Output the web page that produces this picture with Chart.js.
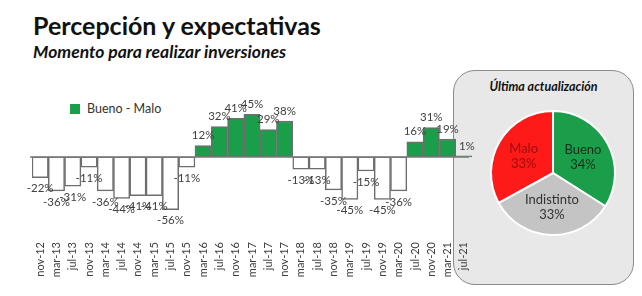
<!DOCTYPE html>
<html lang="es">
<head>
<meta charset="UTF-8">
<title>Percepción y expectativas</title>
<script src="https://cdn.jsdelivr.net/npm/chart.js@4.4.0/dist/chart.umd.min.js"></script>
<style>
    * { margin: 0; padding: 0; box-sizing: border-box; }
    body {
        width: 642px; height: 296px; background: #fff; position: relative; overflow: hidden;
        font-family: Lato, "Open Sans", sans-serif; color: #111;
    }
    h1 { position: absolute; left: 33px; top: 10px; font-size: 25px; font-weight: 700; }
    h2 { position: absolute; left: 33px; top: 41px; font-size: 17.5px; font-style: italic; font-weight: 700; }
    .legend { position: absolute; left: 70px; top: 101px; display: flex; align-items: center; gap: 7px; font-size: 12.5px; color: #333; }
    .legend .box { width: 10px; height: 10px; background: #1a9e4a; }
    .panel {
        position: absolute; left: 453px; top: 70px; width: 181px; height: 215px;
        background: #e8e8e8; border: 1.5px solid #8a8a8a; border-radius: 22px;
    }
    .panel-title { position: absolute; top: 8px; width: 100%; text-align: center; font-size: 12.5px; font-style: italic; font-weight: 700; }
    #pieWrap { position: absolute; left: 489px; top: 109px; width: 128px; height: 128px; }
    #barWrap { position: absolute; left: 0; top: 0; width: 642px; height: 296px; pointer-events: none; }
</style>
</head>
<body>
    <h1>Percepción y expectativas</h1>
    <h2>Momento para realizar inversiones</h2>
    <div class="legend"><span class="box"></span><span>Bueno - Malo</span></div>
    <div class="panel"><div class="panel-title">Última actualización</div></div>
    <div id="pieWrap"><canvas id="pieChart"></canvas></div>
    <div id="barWrap"><canvas id="barChart"></canvas></div>

<script>
    // data
    const periods = ['nov-12', 'mar-13', 'jul-13', 'nov-13', 'mar-14', 'jul-14', 'nov-14', 'mar-15', 'jul-15',
        'nov-15', 'mar-16', 'jul-16', 'nov-16', 'mar-17', 'jul-17', 'nov-17', 'mar-18', 'jul-18', 'nov-18',
        'mar-19', 'jul-19', 'nov-19', 'mar-20', 'jul-20', 'nov-20', 'mar-21', 'jul-21'];
    const buenoMenosMalo = [-22, -36, -31, -11, -36, -44, -41, -41, -56, -11, 12, 32, 41, 45, 29, 38,
        -13, -13, -35, -45, -15, -45, -36, 16, 31, 19, 1];

    const pieLabels = ['Bueno', 'Indistinto', 'Malo'];
    const pieValues = [34, 33, 33];

    const GREEN = '#1a9e4a';
    const RED = '#ff1a1a';
    const GREY = '#c4c4c4';

    // value labels at the end of each bar + the zero line
    const barExtras = {
        id: 'barExtras',
        afterDatasetsDraw(chart) {
            const { ctx, chartArea, scales } = chart;
            const y0 = scales.y.getPixelForValue(0);
            ctx.save();
            ctx.strokeStyle = '#7a7a7a';
            ctx.lineWidth = 1.5;
            ctx.beginPath();
            ctx.moveTo(chartArea.left - 2, y0);
            ctx.lineTo(chartArea.right - 3, y0);
            ctx.stroke();

            ctx.font = '11.5px Lato, "Open Sans", sans-serif';
            ctx.fillStyle = '#404040';
            ctx.textAlign = 'center';
            ctx.textBaseline = 'middle';
            const meta = chart.getDatasetMeta(0);
            meta.data.forEach((bar, i) => {
                const v = buenoMenosMalo[i];
                const y = v >= 0 ? bar.y - 10 : bar.y + 11;
                ctx.fillText(v + '%', bar.x + (i === periods.length - 1 ? 3 : 0), y);
            });
            ctx.restore();
        }
    };

    new Chart(document.getElementById('barChart'), {
        type: 'bar',
        data: {
            labels: periods,
            datasets: [{
                data: buenoMenosMalo,
                backgroundColor: buenoMenosMalo.map(v => v >= 0 ? GREEN : '#ffffff'),
                borderColor: '#6e6e6e',
                borderWidth: 1.5,
                borderSkipped: false,
                categoryPercentage: 1,
                barPercentage: 1
            }]
        },
        options: {
            responsive: true,
            maintainAspectRatio: false,
            animation: false,
            layout: { padding: { left: 32, right: 170, top: 105, bottom: 0 } },
            scales: {
                x: {
                    grid: { display: false, drawTicks: false },
                    border: { display: false },
                    ticks: {
                        minRotation: 90, maxRotation: 90, autoSkip: false, padding: 4,
                        color: '#404040', font: { family: 'Lato, "Open Sans", sans-serif', size: 11 }
                    },
                    afterFit(scale) { scale.height = 58; }
                },
                y: { display: false, min: -86, max: 55 }
            },
            plugins: { legend: { display: false }, tooltip: { enabled: false } }
        },
        plugins: [barExtras]
    });

    // slice labels for the pie
    const pieText = {
        id: 'pieText',
        afterDatasetsDraw(chart) {
            const { ctx } = chart;
            const colors = ['#10301b', '#333333', '#9a0d0d'];
            ctx.save();
            ctx.font = '13px Lato, "Open Sans", sans-serif';
            ctx.textAlign = 'center';
            ctx.textBaseline = 'middle';
            chart.getDatasetMeta(0).data.forEach((arc, i) => {
                const p = arc.tooltipPosition();
                const cx = arc.x, cy = arc.y;
                const x = cx + (p.x - cx) * 1.1;
                const y = cy + (p.y - cy) * 1.1;
                ctx.fillStyle = colors[i];
                ctx.fillText(pieLabels[i], x, y - 7);
                ctx.fillText(pieValues[i] + '%', x, y + 8);
            });
            ctx.restore();
        }
    };

    new Chart(document.getElementById('pieChart'), {
        type: 'pie',
        data: {
            labels: pieLabels,
            datasets: [{
                data: pieValues,
                backgroundColor: [GREEN, GREY, RED],
                borderColor: '#ffffff',
                borderWidth: 2
            }]
        },
        options: {
            responsive: true,
            maintainAspectRatio: false,
            animation: false,
            layout: { padding: 1 },
            plugins: { legend: { display: false }, tooltip: { enabled: false } }
        },
        plugins: [pieText]
    });
</script>
</body>
</html>
